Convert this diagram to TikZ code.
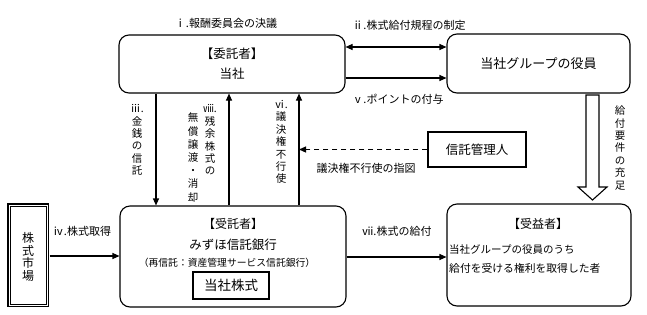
\documentclass[tikz,border=0pt]{standalone}
\usepackage{fontspec}
\setmainfont{Noto Sans CJK JP}
\usetikzlibrary{arrows.meta}
\begin{document}
\begin{tikzpicture}[x=1pt,y=-1pt,
  box/.style={draw,line width=1.1pt,rounded corners=10pt,inner sep=0pt},
  sq/.style={draw,line width=1.1pt,inner sep=0pt},
  txt/.style={inner sep=0pt},
  lab/.style={inner sep=0pt,font=\fontsize{11}{13}\selectfont},
  vlab/.style={inner sep=0pt,align=center,font=\fontsize{10.5}{12.4}\selectfont},
  arr/.style={line width=1.1pt,-{Triangle[length=7pt,width=6pt]}},
  darr/.style={line width=1.1pt,{Triangle[length=7pt,width=6pt]}-{Triangle[length=7pt,width=6pt]}},
]
\useasboundingbox (0,0) rectangle (647,314);
% boxes
\node[box,minimum width=226pt,minimum height=58pt,align=center,font=\fontsize{12.5}{20}\selectfont] (top) at (232,64) {【委託者】\\当社};
\node[box,minimum width=183pt,minimum height=59pt,font=\fontsize{13}{15}\selectfont] (grp) at (538.5,63.5) {当社グループの役員};
\node[box,minimum width=226pt,minimum height=101pt] (trustee) at (233,256.5) {};
\node[box,minimum width=184pt,minimum height=102pt] (benef) at (539,255) {};
\node[draw,line width=1.5pt,minimum width=40.5pt,minimum height=102.5pt,inner sep=0pt] (market) at (28,255) {};
\draw[line width=0.8pt] ([xshift=3pt,yshift=-3pt]market.north west) rectangle ([xshift=-3pt,yshift=3pt]market.south east);
\node[vlab,font=\fontsize{12}{12.4}\selectfont] (marketlab) at (28,257) {株\\式\\市\\場};
\node[sq,minimum width=98pt,minimum height=35pt,font=\fontsize{12.5}{15}\selectfont] (mgr) at (477,149.5) {信託管理人};
\node[sq,minimum width=76pt,minimum height=27pt,font=\fontsize{13.5}{15}\selectfont] (stock) at (231,285.5) {当社株式};
% texts inside boxes
\node[txt,font=\fontsize{12}{14}\selectfont] (trt1) at (233,224) {【受託者】};
\node[txt,font=\fontsize{12.5}{14}\selectfont] (trt2) at (233,245) {みずほ信託銀行};
\node[txt,font=\fontsize{9.8}{12}\selectfont] (trt3) at (227,263) {（再信託：資産管理サービス信託銀行）};
\node[txt,font=\fontsize{12}{14}\selectfont] (bnt1) at (538,224) {【受益者】};
\node[txt,anchor=west,font=\fontsize{10.5}{12}\selectfont] (bnt2) at (449,250) {当社グループの役員のうち};
\node[txt,anchor=west,font=\fontsize{10.8}{12}\selectfont] (bnt3) at (449,268) {給付を受ける権利を取得した者};
% coordinates
\coordinate (yii) at (0,47);
\coordinate (yv) at (0,78);
\coordinate (yiv) at (0,256);
\coordinate (yvii) at (0,257);
\coordinate (xiii) at (156,0);
\coordinate (xviii) at (229,0);
\coordinate (xvi) at (299,0);
% connectors
\draw[darr] (top.east |- yii) -- (grp.west |- yii);
\draw[arr] (top.east |- yv) -- (grp.west |- yv);
\draw[arr] (top.south -| xiii) -- (trustee.north -| xiii);
\draw[arr] (trustee.north -| xviii) -- (top.south -| xviii);
\draw[arr] (trustee.north -| xvi) -- (top.south -| xvi);
\draw[arr,dashed,dash pattern=on 5pt off 4pt] (mgr.west) -- (mgr.west -| xvi);
\draw[arr,shorten <=0.7pt] (market.east |- yiv) -- (trustee.west |- yiv);
\draw[arr] (trustee.east |- yvii) -- (benef.west |- yvii);
% hollow arrow
\draw[line width=1.1pt,line join=miter] (586,95) -- (586,187) -- (578,187) -- (592.5,200) -- (607,187) -- (599,187) -- (599,95) -- cycle;
% labels
\node[lab] (li) at (226,23) {ⅰ.報酬委員会の決議};
\node[lab] (lii) at (409,25) {ⅱ.株式給付規程の制定};
\node[lab] (lv) at (398,99) {ⅴ.ポイントの付与};
\node[lab] (liv) at (82,231) {ⅳ.株式取得};
\node[lab] (lvii) at (397,231) {ⅶ.株式の給付};
\node[lab] (lvote) at (366,168) {議決権不行使の指図};
\node[vlab] (liii) at (137,140) {ⅲ.\\金\\銭\\の\\信\\託};
\node[vlab] (lviiia) at (210,140) {ⅷ.\\残\\余\\株\\式\\の};
\node[vlab,font=\fontsize{10.5}{13.2}\selectfont] (lviiib) at (193,157.5) {無\\償\\譲\\渡\\・\\消\\却};
\node[vlab] (lvi) at (281,142) {ⅵ.\\議\\決\\権\\不\\行\\使};
\node[vlab] (lreq) at (620,148) {給\\付\\要\\件\\の\\充\\足};
\end{tikzpicture}
\end{document}
